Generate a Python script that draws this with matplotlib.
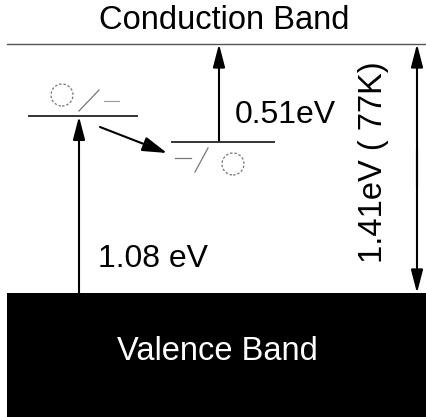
import matplotlib
matplotlib.use("Agg")
import matplotlib.pyplot as plt
from matplotlib.patches import Rectangle, Ellipse, FancyArrowPatch

# ---- data (energies in eV; diagram is schematic) ----
band_labels = ["Conduction Band", "Valence Band"]
gap_label = "1.41eV ( 77K)"
transition_labels = ["1.08 eV", "0.51eV"]
E_valence = 0.0
E_conduction = 1.41
# drawn (schematic) heights of the two defect levels
level_heights = [1.0, 0.855]

PX = 176.6  # pixels per eV in the drawing
def ey(ypix):
    return (293 - ypix) / PX

plt.rcParams['font.family'] = ['Liberation Sans', 'DejaVu Sans']
fig = plt.figure(figsize=(4.27, 4.17), dpi=100)
ax = fig.add_axes([0, 0, 1, 1])
ax.set_xlim(0, 427)
ax.set_ylim(ey(417), ey(0))
ax.axis('off')

# valence band block
ax.add_patch(Rectangle((7, ey(417) - 0.1), 420, E_valence - ey(417) + 0.1,
                       facecolor='black', edgecolor='none'))
ax.text(217, ey(351), band_labels[1], color='white', fontsize=23.5,
        ha='center', va='center')

# conduction band edge
ax.plot([7, 427], [E_conduction, E_conduction], color='#555555', lw=1.0)
ax.text(224, ey(20.5), band_labels[0], color='black', fontsize=23.5,
        ha='center', va='center')

# defect levels
ax.plot([29, 137], [level_heights[0]] * 2, color='#333333', lw=1.4)
ax.plot([172, 274], [level_heights[1]] * 2, color='#333333', lw=1.4)

def arrow(x0, y0, x1, y1, hl=14, hw=0.26, lw=1.5):
    a = FancyArrowPatch((x0, y0), (x1, y1),
                        arrowstyle=f'-|>,head_length=1.0,head_width={hw}',
                        mutation_scale=hl, color='black', lw=lw,
                        shrinkA=0, shrinkB=0)
    ax.add_patch(a)

# 1.08 eV excitation: valence -> upper level
arrow(79, E_valence, 79, level_heights[0])
# 0.51 eV: lower level -> conduction band
arrow(219, level_heights[1], 219, E_conduction)
# relaxation arrow from upper to lower level
arrow(100, ey(127), 167, ey(153), hl=15, hw=0.3)
# band gap double arrow
arrow(417, E_valence + 0.6, 417, E_conduction)
arrow(417, E_conduction - 0.6, 417, E_valence)

# charge-state symbols ( ○/– and –/○ ), drawn light gray
g = '#777777'
ax.add_patch(Ellipse((62, ey(95)), 22, 22 / PX, fill=False, edgecolor=g,
                     lw=0.9, ls=(0, (2, 1.5))))
ax.plot([79, 99], [ey(111), ey(90)], color=g, lw=0.9)
ax.plot([104, 119], [ey(101), ey(101)], color='#999999', lw=0.8)

ax.plot([175, 191], [ey(158), ey(158)], color=g, lw=0.9)
ax.plot([195, 208], [ey(172), ey(148)], color=g, lw=0.9)
ax.add_patch(Ellipse((233, ey(164)), 22, 22 / PX, fill=False, edgecolor=g,
                     lw=0.9, ls=(0, (2, 1.5))))

# energy labels
ax.text(98, ey(267), transition_labels[0], fontsize=23, ha='left',
        va='baseline')
ax.text(235, ey(123), transition_labels[1], fontsize=23, ha='left',
        va='baseline')
ax.text(374, ey(162), gap_label, fontsize=23.5, rotation=90,
        ha='center', va='center')

fig.savefig('out.png', dpi=100, facecolor='white')
